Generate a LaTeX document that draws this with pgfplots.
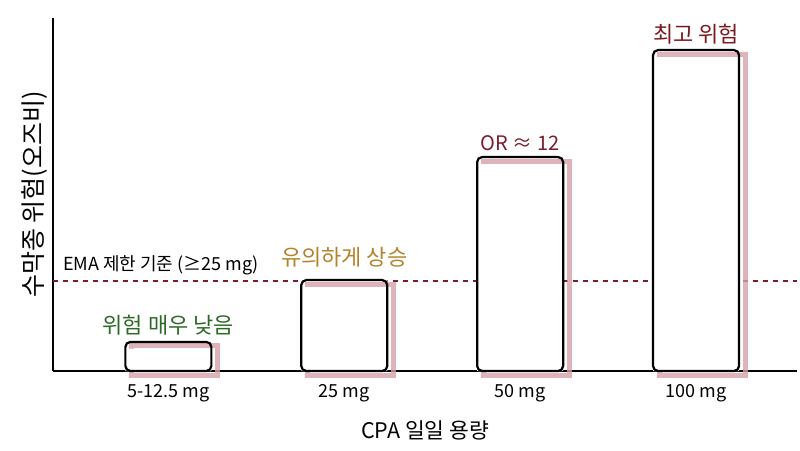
\documentclass[border=0pt]{standalone}
\usepackage{fontspec}
\setmainfont{Noto Sans CJK KR}
\usepackage{pgfplots}
\pgfplotsset{compat=1.18}
\definecolor{shadowpink}{RGB}{214,160,168}
\definecolor{limitred}{RGB}{122,30,45}
\definecolor{lowgreen}{RGB}{46,105,40}
\definecolor{midgold}{RGB}{180,130,40}
\definecolor{highred}{RGB}{122,26,30}

\begin{document}
\begin{tikzpicture}
\useasboundingbox (0,0) rectangle (800pt,450pt);
\begin{axis}[
  at={(53pt,79pt)}, anchor=south west,
  scale only axis,
  width=744pt, height=353pt,
  xmin=-0.656, xmax=3.574,
  ymin=0, ymax=19.8,
  clip=false,
  axis x line=bottom, axis y line=left,
  axis line style={-, line width=1.8pt, black},
  xtick={0,1,2,3},
  xticklabels={5-12.5 mg, 25 mg, 50 mg, 100 mg},
  ytick=\empty,
  major tick length=0pt,
  tick label style={font=\fontsize{18}{20}\selectfont},
  xticklabel style={yshift=-10pt},
  xlabel={CPA 일일 용량},
  ylabel={수막종 위험(오즈비)},
  xlabel style={font=\fontsize{21.5}{24}\selectfont, yshift=-12pt},
  ylabel style={font=\fontsize{25}{27}\selectfont, yshift=2pt},
]
% EMA threshold
\addplot[limitred, line width=1.5pt, dash pattern=on 5pt off 5pt]
  coordinates {(-0.656,5.05) (3.574,5.05)};

% bar fill
\addplot[ybar, bar width=86pt, bar shift=0pt, fill=white, draw=none]
  coordinates {(0,1.63) (1,5.1) (2,12.0) (3,18.0)};
% pink shadow outline, offset right and down
\addplot[ybar, bar width=86pt, bar shift=6pt, yshift=-4pt, fill=none,
         draw=shadowpink, line width=5pt, opacity=0.8]
  coordinates {(0,1.63) (1,5.1) (2,12.0) (3,18.0)};
% white strip hiding the shadow's left edge inside the bar
\addplot[ybar, bar width=8pt, bar shift=-37pt, fill=white, draw=none]
  coordinates {(0,1.24) (1,4.71) (2,11.61) (3,17.61)};
% outline
\addplot[ybar, bar width=86pt, bar shift=0pt, fill=none, draw=black,
         line width=2.2pt, rounded corners=5pt]
  coordinates {(0,1.63) (1,5.1) (2,12.0) (3,18.0)};

\node[anchor=south west, font=\fontsize{18}{20}\selectfont, inner sep=0pt]
  at (axis cs:-0.6,5.05) [yshift=6pt] {EMA 제한 기준 (≥25 mg)};
\node[lowgreen, anchor=south, font=\fontsize{22}{24}\selectfont]
  at (axis cs:0,1.63) [yshift=3pt] {위험 매우 낮음};
\node[midgold, anchor=south, font=\fontsize{22}{24}\selectfont]
  at (axis cs:1,5.1) [yshift=9pt] {유의하게 상승};
\node[limitred, anchor=south, font=\fontsize{20}{22}\selectfont]
  at (axis cs:2,12.0) [yshift=3pt] {OR ≈ 12};
\node[highred, anchor=south, font=\fontsize{22}{24}\selectfont]
  at (axis cs:3,18.0) [yshift=2pt] {최고 위험};
\end{axis}
\end{tikzpicture}
\end{document}
